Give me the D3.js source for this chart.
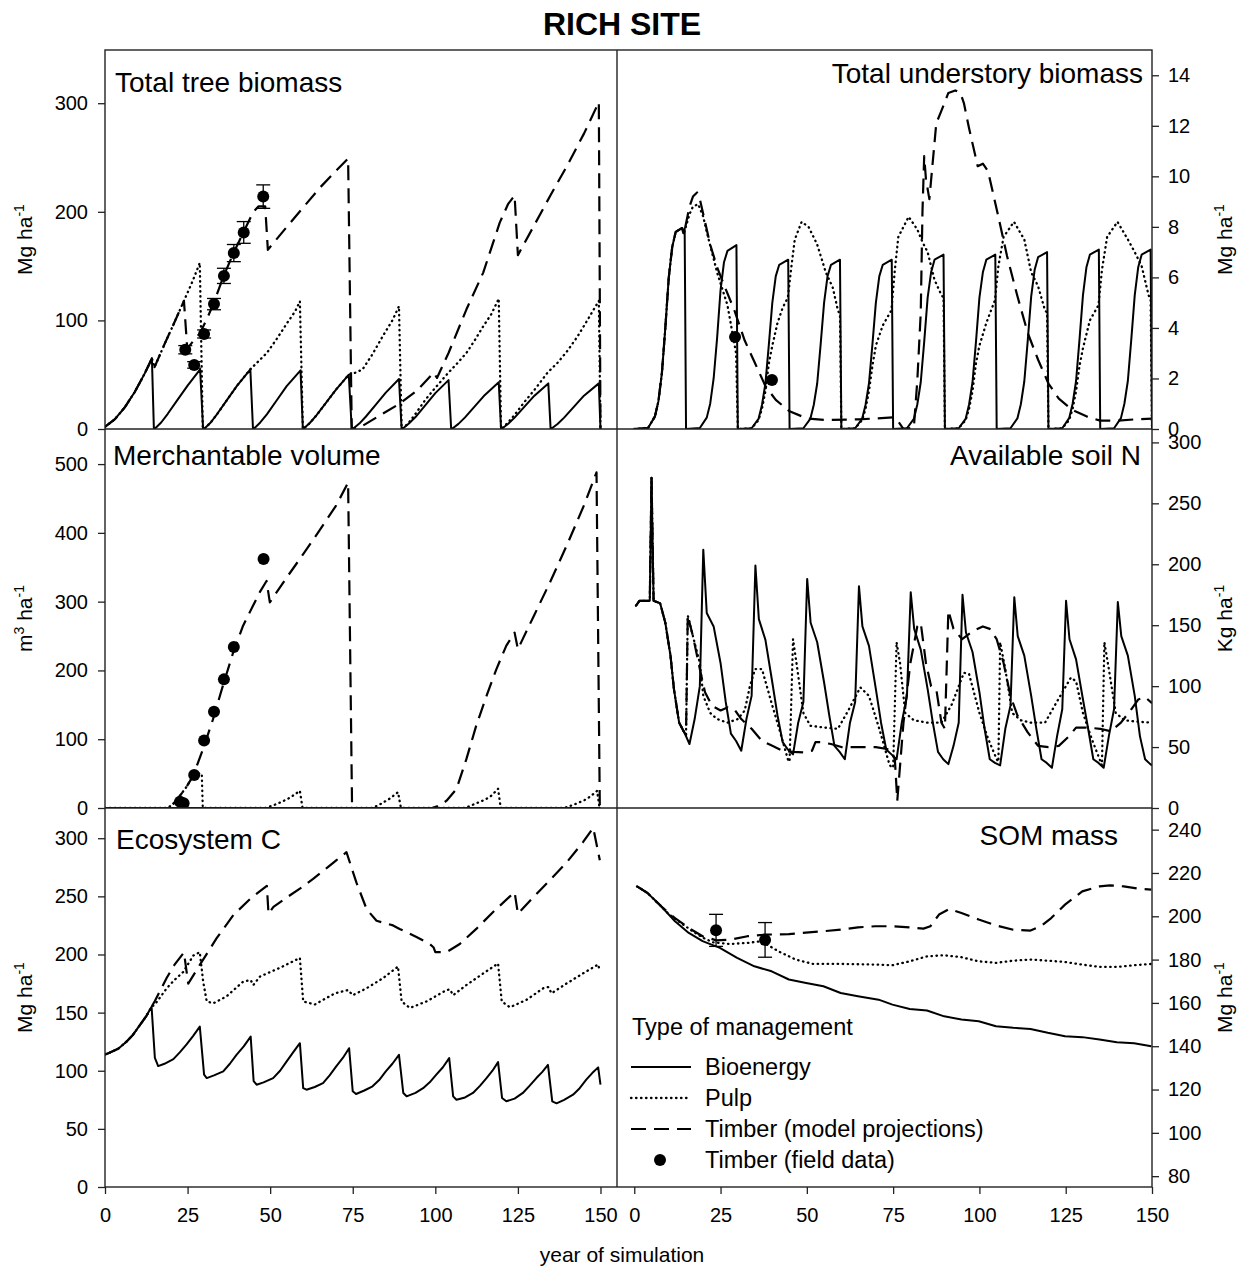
<!DOCTYPE html>
<html>
<head>
<meta charset="utf-8">
<title>Rich site</title>
<script src="https://cdn.jsdelivr.net/npm/d3@7/dist/d3.min.js"></script>
<style>
  body { margin: 0; background: #fff; }
  svg text { font-family: "Liberation Sans", Arial, sans-serif; fill: #000; }
</style>
</head>
<body>
<svg id="chart" width="1257" height="1272"></svg>
<script>
// values: [year, value] or [year, value, error]
const xTicks = [0, 25, 50, 75, 100, 125, 150];
const managementTypes = ['Bioenergy', 'Pulp', 'Timber (model projections)', 'Timber (field data)'];

// Total tree biomass (Mg/ha)
const treeTicks = [0, 100, 200, 300];
const treeBioenergy = [[0,2],[3,9],[6,20],[9,34],[12,51],[14.2,65],[14.8,0],
  [15,0],[17,6],[19,14],[22,27],[25,40],[28.8,55],[29.7,0],
  [30,0],[32,6],[34,14],[37,27],[40,40],[44,55],[44.8,0],
  [45,0],[47,6],[49,13.5],[52,26.5],[55,39.5],[59.2,54],[59.9,0],
  [60,0],[62,5.5],[64,12.5],[67,24.5],[70,36.5],[73.8,50],[74.7,0],
  [75,0],[77,5],[79,11.5],[82,22.5],[85,33.5],[89,46],[89.8,0],
  [90,0],[92,5],[94,11],[97,22],[100,33],[104,45],[104.8,0],
  [105,0],[107,4.7],[109,10.7],[112,21],[115,31.4],[119.2,43],[119.9,0],
  [120,0],[122,4.6],[124,10.5],[127,20.6],[130,30.7],[134.2,42],[134.9,0],
  [135,0],[137,4.6],[139,10.5],[142,20.6],[145,30.7],[149.5,42],[150,0]];
const treePulp = [[0,2],[3,9],[6,20],[9,34],[12,51],[14.2,65],[15,57],[18,78],[21,98],[23.9,118],[26.5,136],[28.7,153],[29.6,0],
  [30,0],[32,6],[34,14],[37,27],[40,40],[44,55],[46,61],[49,70],[52,83],[55,97],[57.5,108],[59,117.6],[59.9,0],
  [60,0],[62,5.5],[64,12.5],[67,24.5],[70,36.5],[73.8,50],[76,52],[78,55],[81,69],[84,85],[87,100],[89,113],[89.8,0],
  [90,0],[92,6],[94,14],[97,27],[100,38],[102,45],[104,52],[106.5,60],[109.4,70],[112,82],[114.5,94.5],[117,106],[119.2,120],[119.9,0],
  [120,0],[122,6],[124,13],[127,25],[130,36],[132,44],[134,52],[137,61],[140,72],[143,85],[146,100],[149.5,118],[150,0]];
const treeTimber = [[0,2],[3,9],[6,20],[9,34],[12,51],[14.2,65],[15,57],[18,78],[21,98],[23.9,118],[24.9,74],[27,82],[28.7,88],
  [30.8,101],[32.8,115],[35.8,140],[38.9,162],[41.9,181],[44.9,200],[46.5,205],[48.5,205],[49.3,165],[55,186],[60,204],
  [65,222],[70,238],[73.6,249],[74.7,0],[78,3],[84,14],[89,23],[94.3,35],[98,47],[99.5,52],[100.5,47],[104,70],
  [109.4,110],[114.5,144],[119.5,190],[122,207],[124,215],[125,160],[130,188],[135,216],[140,243],[145,272],[149.5,301],[150,0]];
const treeField = [[24.3,73,3.8],[27,59,3],[30,87.5,3.7],[33,115,5.2],[36,141,7],[39,162,7.9],[42,181,10],[47.9,214,10.8]];

// Total understory biomass (Mg/ha)
const underTicks = [0, 2, 4, 6, 8, 10, 12, 14];
const underBioenergy = [[0,0],[4,0.04],[6,0.5],[7,1.1],[8,2.2],[9,4],[10,6],[11,7.2],[12,7.8],[13.8,7.95],[14.2,7.75],[14.6,7.95],[15,0],
  [19,0.04],[21,0.45],[22,1.0],[23,2.0],[24,3.6],[25,5.5],[26,6.6],[27,7.05],[29.6,7.28],[30,0],
  [34,0.03],[36,0.4],[37,0.95],[38,1.8],[39,3.35],[40,5.0],[41,6.05],[42,6.5],[44.6,6.7],[45,0],
  [49,0.03],[51,0.4],[52,0.95],[53,1.8],[54,3.35],[55,5.0],[56,6.05],[57,6.5],[59.6,6.7],[60,0],
  [64,0.03],[66,0.4],[67,0.95],[68,1.8],[69,3.35],[70,5.0],[71,6.05],[72,6.5],[74.6,6.7],[75,0],
  [79,0.03],[81,0.4],[82,0.97],[83,1.85],[84,3.45],[85,5.2],[86,6.2],[87,6.7],[89.6,6.9],[90,0],
  [94,0.03],[96,0.4],[97,0.97],[98,1.85],[99,3.45],[100,5.2],[101,6.2],[102,6.7],[104.6,6.9],[105,0],
  [109,0.03],[111,0.42],[112,0.98],[113,1.88],[114,3.5],[115,5.25],[116,6.3],[117,6.8],[119.6,7.0],[120,0],
  [124,0.03],[126,0.43],[127,1.0],[128,1.9],[129,3.55],[130,5.3],[131,6.4],[132,6.9],[134.6,7.1],[135,0],
  [139,0.03],[141,0.43],[142,1.0],[143,1.9],[144,3.55],[145,5.3],[146,6.4],[147,6.9],[149.6,7.1],[150,0]];
const underPulp = [[0,0],[4,0.04],[6,0.5],[7,1.1],[8,2.2],[9,4],[10,6],[11,7.2],[12,7.8],[13.8,7.95],[14.5,7.8],[16,8.5],[17,8.8],
  [18.5,8.9],[20,8.4],[21,7.8],[24,6.2],[27,4.9],[29.5,3],[30,0],
  [34,0.03],[36,0.35],[37,0.8],[38,1.5],[39,2.6],[40,3.3],[41.5,4.2],[43,4.8],[44.5,5.2],[45.5,6.4],[46.5,7.5],[48.5,8.2],
  [50.5,8.0],[53,7.3],[55.5,6.2],[57.5,5.6],[59,4.7],[59.6,4.5],[60,0],
  [64,0.03],[66,0.35],[67,0.8],[68,1.5],[69,2.5],[70,3.3],[72,4.1],[74.5,4.7],[75.5,6.3],[76.5,7.6],[79.5,8.4],[82,7.9],
  [83.5,7.4],[85,7],[87,5.9],[89,5.3],[89.6,5.2],[90,0],
  [94,0.03],[96,0.35],[97,0.8],[98,1.5],[99,2.6],[100,3.3],[102,4.2],[104.5,5.1],[105.5,6.45],[107,7.6],[110,8.2],[113,7.5],
  [115,6.2],[117,5.65],[119,4.7],[119.6,4.6],[120,0],
  [124,0.03],[126,0.35],[127,0.8],[128,1.5],[129,2.5],[130,3.2],[132,4.3],[134.5,4.9],[135.5,6.3],[137,7.6],[140,8.2],[143,7.5],
  [145,7],[147,6.45],[149,5.3],[149.6,5.1],[150,0]];
const underTimber = [[0,0],[4,0.04],[6,0.5],[7,1.1],[8,2.2],[9,4],[10,6],[11,7.2],[12,7.8],[13.8,7.95],[14.5,7.8],[16,8.8],[17,9.2],
  [18.2,9.36],[19,9.1],[20.5,8.2],[22,7.3],[24,6.4],[26,5.7],[29,4.7],[32,3.5],[35,2.6],[38,1.7],[41,1.15],[45,0.7],[50,0.42],
  [55,0.36],[65,0.38],[75,0.46],[76.5,0.3],[78,0],[81,0.05],[82,1.9],[83,4.6],[83.5,8.6],[84,10.8],[84.5,9.9],[85.5,9.1],
  [86.5,10.6],[87.5,12.1],[89,12.6],[91,13.3],[93,13.4],[94.5,13.3],[95.5,12.9],[97,11.9],[99.5,10.4],[101,10.5],[102.5,10.2],
  [105,8.7],[108,6.85],[111,5.26],[114,3.8],[117,2.74],[120,1.8],[123,1.2],[127,0.75],[131,0.5],[135,0.33],[140,0.33],[145,0.38],[150,0.41]];
const underField = [[29.2,3.64,0],[39.9,1.94,0]];

// Merchantable volume (m3/ha)
const volTicks = [0, 100, 200, 300, 400, 500];
const volBioenergy = [[0,0],[150,0]];
const volPulp = [[0,0],[18.7,0],[20.5,5],[22.7,18],[24.7,31],[26.7,47],[28.5,50],[29.3,50],[29.6,0],[48.5,0],[51,4],[53.5,9],
  [56,15],[59,25],[59.8,0],[81,0],[83.5,6],[86,13],[88.7,23],[89.6,0],[109,0],[112,6],[115,12],[117,18],[119,28],[119.8,0],
  [139,0],[142,5],[145,11],[147,17],[149,25],[149.7,0],[150,0]];
const volTimber = [[0,0],[18.7,0],[20.5,5],[22.7,18],[24.7,31],[26.7,47],[29.7,86],[32.7,129],[35.7,178],[38.8,226],[41.8,265],
  [44.8,294],[47,315],[48.9,330],[49.9,299],[55,335],[60,369],[65,404],[70,440],[73.6,473],[74.8,0],[99,0],[101.5,4],
  [103.4,10.6],[106.4,27.6],[109.4,71],[112.4,120],[115.5,163],[118.5,202],[121.5,236],[124,255],[125,231],[130,281],
  [135,331],[140,384],[145,440],[148.8,488],[149.8,0],[150,0]];
const volField = [[22.7,9,0],[23.8,7,0],[27,48,0],[30,98,0],[33,140,0],[36,187,0],[39,234,0],[48,362,0]];

// Available soil N (kg/ha)
const soilNTicks = [0, 50, 100, 150, 200, 250, 300];
const soilNBioenergy = [[0.5,166],[1.5,170],[4.5,170],[5,271],[5.6,170],[7.5,168],[9,152],[10.5,125],[11.5,97.5],[13,70],
  [14.5,62],[16,52.5],[17.5,73],[19,100],[20,212],[21,160],[23,149],[25,119],[26.5,87],[28,61],[29.5,55],[31,47],[32.5,73],
  [34,92],[35.1,199],[36.1,155],[38,138],[40,103],[41.5,76],[43,54],[44.5,48],[46,44],[47.5,70],[49,87],[50.1,188],[51.1,152],
  [53,136],[55,103],[56.5,76],[58,51],[59.5,46],[61,40],[62.5,70],[64,87],[65.1,182],[66.1,149],[68,133],[70,97.5],[71.5,70],
  [73,48],[74.5,44],[76,40],[77.5,70],[79,92],[80.1,177],[81.1,147],[83,130],[85,97.5],[86.5,70],[88,46],[89.5,40],[91,36],
  [92.5,51],[94,70],[95.1,175],[96.1,144],[98,128],[100,95],[101.5,65],[103,40],[104.5,37],[106,35],[107.5,65],[109,84],
  [110.1,173],[111.1,141],[113,125],[115,92],[116.5,65],[118,40],[119.5,37],[121,33],[122.5,59],[124,81],[125.1,170],
  [126.1,138.5],[128,122],[130,89],[131.5,65],[133,40],[134.5,37],[136,33],[137.5,59],[139,81],[140.1,169],[141.1,141],
  [143,125],[145,92],[146.5,59],[148,40],[149.5,36],[150,35]];
const soilNPulp = [[0.5,166],[1.5,170],[4.5,170],[5,271],[5.6,170],[7.5,168],[9,152],[10.5,125],[11.5,97.5],[13,70],[14.5,62],
  [15,60],[15.5,158],[17,141],[19,119],[20,92],[22,78],[24,73],[27,70],[30,73],[32,80],[33.5,100],[35,114],[37,114],[40,84],
  [42,65],[44.5,40],[45,38],[46,138.5],[47,119],[49,78],[51,67.5],[55,66],[59,65],[62,80],[65.5,99],[68,92],[71,65],[74,35],
  [75,33],[76,136],[77,119],[78.5,78],[81,72],[85,70],[89,70],[92,85],[95.5,111],[97,110],[100,78],[102.5,57],[105,40],
  [105.5,38],[106,136],[107.5,114],[109.5,78],[112,72],[115,70],[119,70],[122,85],[126.5,107],[128,104],[130,78],[132.5,57],
  [135.5,35],[136.2,136],[137.5,114],[139.5,78],[142,72],[145,71],[150,70]];
const soilNTimber = [[0.5,166],[1.5,170],[4.5,170],[5,271],[5.6,170],[7.5,168],[9,152],[10.5,125],[11.5,97.5],[13,70],[14.5,62],
  [15,60],[15.5,158],[17,141],[19,114],[20.5,95],[22.5,84],[25,80],[27,82.5],[29,81],[31,73],[34,65],[37,55],[40,51],[43,47],
  [46,46],[49,45.6],[51.5,47],[52.5,54],[54,54],[57,52.5],[60,50],[65,50],[70,50],[74,48],[75.5,40],[76.2,6],[78,70],[80,119],
  [82,149],[83,152],[84.5,119],[86,100],[87.5,97.5],[89,70],[90,65],[91,162],[92.5,147],[95,138.5],[98,145],[101,149],[103,147],
  [105,138.5],[107,119],[109,92],[111,76],[114,62],[117,51],[120,50],[123,51],[126,59],[128,66],[131,66],[135,65],[138,63],
  [141,70],[144,81],[146,89],[148,91],[150,86]];

// Ecosystem C (Mg/ha)
const ecoCTicks = [0, 50, 100, 150, 200, 250, 300];
const ecoCBioenergy = [[0,114],[1,115],[4,119],[6.5,125],[8.5,131],[10.6,139.4],[12.5,147],[14.1,155],[15.1,111],[16.1,104],
  [18,106],[20.7,110],[22.7,116],[24.7,122.6],[26.7,130],[28.7,138],[30,96.6],[30.8,93.7],[33,96],[35.8,99.4],[37.8,106],
  [39.8,113.7],[42,121],[44.1,129.4],[45,91],[45.9,88],[48,90],[50.9,93.7],[53,100],[55,108],[57,116],[59,123.7],[60,85],
  [61,83.7],[63.5,86],[66,89.4],[68,96],[70,103.7],[72,111],[73.9,119.4],[75,82.3],[76,80],[78.5,83],[81,86.6],[83,92],
  [85,99.4],[87,106],[89,113.7],[90.3,80.9],[91.3,78],[94,81],[96.3,85],[98.3,90],[100.3,96.6],[102.3,103],[104.2,110.9],
  [105.4,78],[106.4,75],[109,77],[111.4,80.9],[113.5,87],[115.5,93.7],[117.3,100],[119,107.4],[120.2,76.6],[121.5,73.7],
  [124,76],[126.5,80.9],[128.5,87],[130.6,93.7],[132.4,99],[134.1,105],[135.4,73.7],[136.7,72],[139,75],[141.7,79.4],
  [143.7,85],[145.7,92.3],[147.5,98],[149.3,102.9],[150,88]];
const ecoCPulp = [[0,114],[1,115],[4,119],[6.5,125],[8.5,131],[10.6,139.4],[12.5,147],[14.1,155],[15.1,157],[18.7,171],[21,178],
  [23.7,185],[26.7,199],[28.7,202],[29.7,177],[30.8,159.6],[32.8,158],[36.8,164],[41.8,176.6],[44.1,178],[44.9,173.7],
  [46.9,181],[53,188.6],[59,197],[60,159.6],[63.5,157],[69.6,166.6],[73.6,169.4],[75,165],[79.2,171],[84.2,179.7],[88.7,189.6],
  [89.8,159.6],[92.3,154],[97.3,159.6],[103.4,169.4],[104.4,170],[105.4,165],[109.4,173.7],[114.5,183.7],[119,192.3],
  [120.1,159.6],[122.6,154.6],[127.6,161],[132.7,171],[134.2,172],[135.2,166.6],[139.7,175],[144.7,183.7],[149.3,191.4],[149.8,185.7]];
const ecoCTimber = [[0,114],[1,115],[4,119],[6.5,125],[8.5,131],[10.6,139.4],[12.5,147],[14.1,155],[15.1,160],[18.7,180],[21,191],
  [23.9,201.7],[25.2,175],[28.7,191],[33.8,214],[38.9,234],[44,248],[49,259],[49.5,235],[51,241],[55,249],[59,256.6],[63,265],
  [67,274],[70,281],[73.1,288],[76.1,262],[79.2,239],[82.2,229],[85.2,226.6],[87.2,225],[89.2,222],[91.5,219],[94.3,215],
  [98.3,209],[99.5,206],[100,202],[103.4,202],[107.4,209],[112.4,222],[117.5,236.6],[124,253.7],[125,235],[129.6,249],
  [134.6,263.7],[139.7,279],[144.7,296.6],[147.8,309],[149.8,281]];

// SOM mass (Mg/ha)
const somTicks = [80, 100, 120, 140, 160, 180, 200, 220, 240];
const somBioenergy = [[0.8,213.8],[3.8,210.8],[7.8,204.6],[11.8,197.7],[15.8,192.3],[19.8,188.5],[24.8,185.4],[29.8,180.8],
  [34.8,176.9],[39.8,174.6],[44.8,170.8],[49.8,169.2],[54.8,167.7],[59.8,164.6],[64.8,163.1],[70.8,161.5],[74.8,159.2],
  [79.8,157.2],[84.8,156.5],[89.8,153.8],[94.8,152.3],[99.8,151.5],[104.8,149.2],[109.8,148.5],[114.8,148],[119.8,146.2],
  [124.8,144.6],[129.8,144.2],[134.8,143.1],[139.8,141.8],[144.8,141.4],[149.8,140]];
const somPulp = [[0.8,213.8],[3.8,210.8],[7.8,204.6],[10,201],[13,197.5],[17,193],[20,190],[22.8,188],[27.8,187.2],[32.8,187.7],
  [36.8,188.5],[41.8,183.8],[46.8,180],[51.8,178],[59.8,178],[69.8,177.7],[74.8,177.4],[79.8,179.2],[84.8,181.5],[89.8,182],
  [94.8,181.1],[99.8,179.2],[104.8,178.5],[109.8,179.5],[114.8,180],[119.8,179.5],[124.8,178.9],[129.8,177.7],[134.8,176.6],
  [139.8,176.6],[144.8,177.4],[149.8,178]];
const somTimber = [[0.8,213.8],[3.8,210.8],[7.8,204.6],[10,201.5],[11.8,199.2],[15.8,194.6],[19.8,190.8],[23.8,188.9],[27.8,189.2],
  [32.8,190.8],[37.8,191.5],[44.8,191.8],[54.8,193.1],[59.8,193.8],[64.8,194.9],[69.8,195.4],[74.8,195.4],[79.8,194.9],
  [83.8,194.3],[85.8,195.4],[88.3,200.8],[91.3,203.4],[94.8,201.5],[99.8,198.5],[104.8,195.8],[109.8,193.8],[114.8,193.4],
  [117.8,195.4],[120.8,199.2],[124.8,205.4],[129.8,211.5],[134.8,213.8],[137.8,214.3],[141.8,213.8],[145.8,212.8],[149.8,212.3]];
const somField = [[23.7,193.5,7.4],[37.9,189.1,8]];

// ---- layout ----
const svg = d3.select('#chart');
const colL = [105, 617], colR = [617, 1152];
const rows = [[50, 429], [429, 808], [808, 1187]];
const xLeft = d3.scaleLinear().domain([0, 155]).range(colL);
const xRight = d3.scaleLinear().domain([-5, 150]).range(colR);

const panels = [
  { id: 'tree', col: 0, row: 0, yDomain: [0, 349], ticks: treeTicks, title: 'Total tree biomass', tx: 115, ty: 92, anchor: 'start',
    bio: treeBioenergy, pulp: treePulp, timber: treeTimber, field: treeField, unit: [['Mg ha'], ['-1', 1]] },
  { id: 'under', col: 1, row: 0, yDomain: [0, 15], ticks: underTicks, title: 'Total understory biomass', tx: 1143, ty: 83, anchor: 'end',
    bio: underBioenergy, pulp: underPulp, timber: underTimber, field: underField, unit: [['Mg ha'], ['-1', 1]] },
  { id: 'vol', col: 0, row: 1, yDomain: [0, 551], ticks: volTicks, title: 'Merchantable volume', tx: 113, ty: 465, anchor: 'start',
    bio: volBioenergy, pulp: volPulp, timber: volTimber, field: volField, unit: [['m'], ['3', 1], [' ha'], ['-1', 1]] },
  { id: 'soiln', col: 1, row: 1, yDomain: [0, 311], ticks: soilNTicks, title: 'Available soil N', tx: 1141, ty: 465, anchor: 'end',
    bio: soilNBioenergy, pulp: soilNPulp, timber: soilNTimber, field: [], unit: [['Kg ha'], ['-1', 1]] },
  { id: 'ecoc', col: 0, row: 2, yDomain: [0, 326], ticks: ecoCTicks, title: 'Ecosystem C', tx: 116, ty: 849, anchor: 'start',
    bio: ecoCBioenergy, pulp: ecoCPulp, timber: ecoCTimber, field: [], unit: [['Mg ha'], ['-1', 1]] },
  { id: 'som', col: 1, row: 2, yDomain: [75, 250], ticks: somTicks, title: 'SOM mass', tx: 1118, ty: 845, anchor: 'end',
    bio: somBioenergy, pulp: somPulp, timber: somTimber, field: somField, unit: [['Mg ha'], ['-1', 1]] }
];

const styles = {
  bio: { dash: null, cap: 'butt', width: 2 },
  pulp: { dash: '0.5,4.5', cap: 'round', width: 2.3 },
  timber: { dash: '15,8', cap: 'butt', width: 2.2 }
};

// unit text with superscripts; dy resets after each superscript
function unitLabel(sel, parts) {
  let prevSup = false;
  parts.forEach(([txt, sup], i) => {
    let dy = 0;
    if (sup) dy = -8;
    else if (i > 0 && prevSup) dy = 8;
    sel.append('tspan')
      .attr('font-size', sup ? 14 : 21)
      .attr('dy', dy)
      .text(txt);
    prevSup = !!sup;
  });
}

panels.forEach(p => {
  const [top, bottom] = rows[p.row];
  const x = p.col === 0 ? xLeft : xRight;
  const y = d3.scaleLinear().domain(p.yDomain).range([bottom, top]);

  svg.append('clipPath').attr('id', 'clip-' + p.id)
    .append('rect')
    .attr('x', x.range()[0]).attr('y', top)
    .attr('width', x.range()[1] - x.range()[0]).attr('height', bottom - top);

  const g = svg.append('g').attr('clip-path', `url(#clip-${p.id})`);
  const line = d3.line().x(d => x(d[0])).y(d => y(d[1]));

  ['pulp', 'timber', 'bio'].forEach(k => {
    g.append('path')
      .datum(p[k])
      .attr('d', line)
      .attr('fill', 'none')
      .attr('stroke', '#000')
      .attr('stroke-width', styles[k].width)
      .attr('stroke-linecap', styles[k].cap)
      .attr('stroke-linejoin', 'round')
      .attr('stroke-dasharray', styles[k].dash);
  });

  // field data with error bars
  const pts = g.selectAll('.pt').data(p.field).enter().append('g');
  pts.filter(d => d[2] > 0).each(function (d) {
    const s = d3.select(this);
    const cx = x(d[0]);
    s.append('line').attr('x1', cx).attr('x2', cx).attr('y1', y(d[1] - d[2])).attr('y2', y(d[1] + d[2]));
    s.append('line').attr('x1', cx - 7).attr('x2', cx + 7).attr('y1', y(d[1] - d[2])).attr('y2', y(d[1] - d[2]));
    s.append('line').attr('x1', cx - 7).attr('x2', cx + 7).attr('y1', y(d[1] + d[2])).attr('y2', y(d[1] + d[2]));
    s.selectAll('line').attr('stroke', '#000').attr('stroke-width', 1.3);
  });
  pts.append('circle')
    .attr('cx', d => x(d[0]))
    .attr('cy', d => y(d[1]))
    .attr('r', 6)
    .attr('fill', '#000');

  // y axis
  const left = p.col === 0;
  const axis = (left ? d3.axisLeft(y) : d3.axisRight(y))
    .tickValues(p.ticks).tickSize(7).tickSizeOuter(0).tickPadding(left ? 10 : 9);
  svg.append('g')
    .attr('transform', `translate(${left ? colL[0] : colR[1]},0)`)
    .call(axis)
    .call(a => a.select('.domain').remove())
    .call(a => a.selectAll('line').attr('stroke', '#222').attr('stroke-width', 1.3))
    .call(a => a.selectAll('text').attr('font-size', 20).attr('font-family', '"Liberation Sans", Arial, sans-serif'));

  // panel title
  svg.append('text')
    .attr('x', p.tx).attr('y', p.ty)
    .attr('text-anchor', p.anchor)
    .attr('font-size', 28)
    .text(p.title);

  // axis title
  const ut = svg.append('text')
    .attr('transform', `translate(${left ? 32 : 1232},${(top + bottom) / 2}) rotate(-90)`)
    .attr('text-anchor', 'middle');
  unitLabel(ut, p.unit);
});

// bottom axes
[xLeft, xRight].forEach(x => {
  svg.append('g')
    .attr('transform', 'translate(0,1187)')
    .call(d3.axisBottom(x).tickValues(xTicks).tickSize(7).tickSizeOuter(0).tickPadding(14))
    .call(a => a.select('.domain').remove())
    .call(a => a.selectAll('line').attr('stroke', '#222').attr('stroke-width', 1.3))
    .call(a => a.selectAll('text').attr('font-size', 20).attr('font-family', '"Liberation Sans", Arial, sans-serif'));
});

// frame
const frame = svg.append('g').attr('fill', 'none').attr('stroke', '#222').attr('stroke-width', 1.4);
frame.append('rect').attr('x', colL[0]).attr('y', rows[0][0]).attr('width', colR[1] - colL[0]).attr('height', rows[2][1] - rows[0][0]);
frame.append('line').attr('x1', colL[1]).attr('x2', colL[1]).attr('y1', rows[0][0]).attr('y2', rows[2][1]);
[rows[1][0], rows[2][0]].forEach(yy => {
  frame.append('line').attr('x1', colL[0]).attr('x2', colR[1]).attr('y1', yy).attr('y2', yy);
});

// titles
svg.append('text')
  .attr('x', 622).attr('y', 35)
  .attr('text-anchor', 'middle')
  .attr('font-size', 32).attr('font-weight', 'bold')
  .text('RICH SITE');
svg.append('text')
  .attr('x', 622).attr('y', 1262)
  .attr('text-anchor', 'middle')
  .attr('font-size', 21)
  .text('year of simulation');

// legend
const lg = svg.append('g');
lg.append('text').attr('x', 632).attr('y', 1035).attr('font-size', 23.5).text('Type of management');
managementTypes.forEach((name, i) => {
  const cy = 1067 + i * 31;
  if (i < 3) {
    const k = ['bio', 'pulp', 'timber'][i];
    lg.append('line')
      .attr('x1', 631).attr('x2', 691).attr('y1', cy).attr('y2', cy)
      .attr('stroke', '#000')
      .attr('stroke-width', styles[k].width)
      .attr('stroke-linecap', styles[k].cap)
      .attr('stroke-dasharray', styles[k].dash);
  } else {
    lg.append('circle').attr('cx', 660).attr('cy', cy).attr('r', 6).attr('fill', '#000');
  }
  lg.append('text').attr('x', 705).attr('y', cy + 8).attr('font-size', 23.5).text(name);
});
</script>
</body>
</html>
